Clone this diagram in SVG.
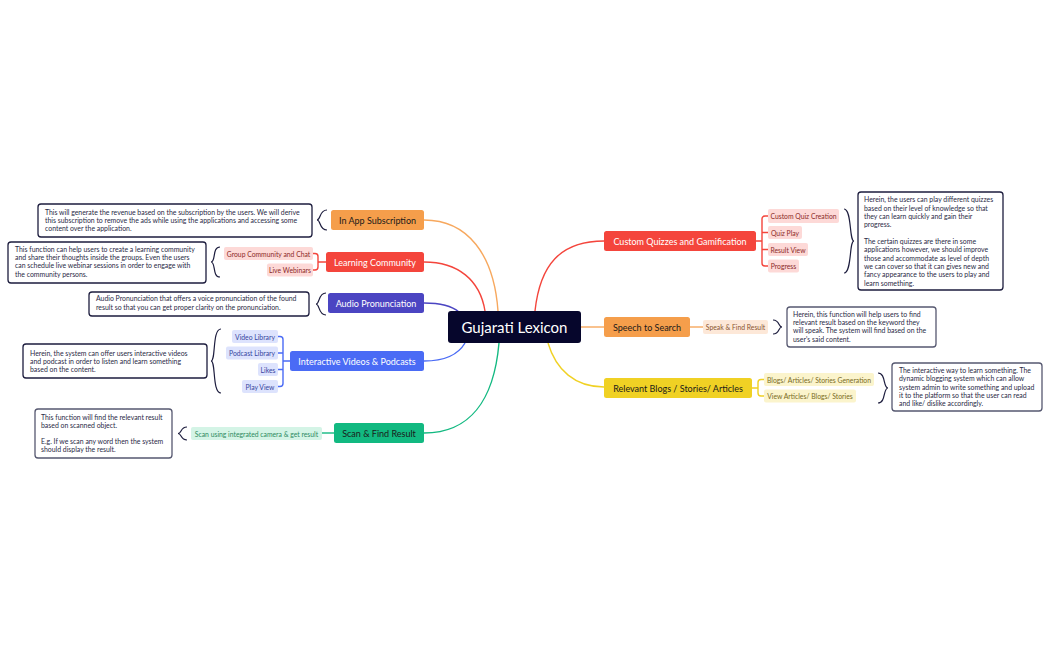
<svg xmlns="http://www.w3.org/2000/svg" width="1051" height="650" viewBox="0 0 1051 650">
<style>
text{font-family:Lato,"Liberation Sans",sans-serif}
.mt{font-size:9px;text-anchor:middle;dominant-baseline:central}
.st{font-size:6.8px;text-anchor:middle;dominant-baseline:central}
.dt{font-size:6.9px;fill:#2a2a46}
.desc{fill:#fff;stroke:#1d1d3e;stroke-width:1.3}
.descg{fill:#fff;stroke:#565870;stroke-width:1.3}
.br{fill:none;stroke:#1d1d3e;stroke-width:1.2}
.c{fill:none;stroke-width:1.4}
</style>
<rect width="1051" height="650" fill="#fff"/>
<g id="connectors">
<path class="c" stroke="#F7A85E" d="M424 220 C468 220 494 255 498 311"/>
<path class="c" stroke="#F4453C" d="M424 262 C458 262 480 280 485 311"/>
<path class="c" stroke="#4B45C2" d="M424 303 C440 303 452 306 459 312"/>
<path class="c" stroke="#4A6BF5" d="M424 361 C445 361 458 355 465 343"/>
<path class="c" stroke="#12B981" d="M424 433 C470 433 494 400 499 343"/>
<path class="c" stroke="#F4453C" d="M604 241 C560 241 540 265 535 311"/>
<path class="c" stroke="#F7A85E" d="M581 327 L604 327"/>
<path class="c" stroke="#F0D124" d="M548 343 C556 370 575 387 604 387"/>
<path class="c" stroke="#F4453C" d="M326 262 H318 M313 253.5 H315 Q318 253.5 318 256.5 V267 Q318 270 315 270 H313"/>
<path class="c" stroke="#4A6BF5" d="M290 361 H283 M278 336.5 H280 Q283 336.5 283 339.5 V383.5 Q283 386.5 280 386.5 H278 M278 353 H283 M278 369.5 H283"/>
<path class="c" stroke="#12B981" d="M334 433 H322"/>
<path class="c" stroke="#F4453C" d="M756 241 H762 M768 216 H765 Q762 216 762 219 V263 Q762 266 765 266 H768 M768 232.5 H762 M768 249.5 H762"/>
<path class="c" stroke="#F7A85E" d="M690 327 H703"/>
<path class="c" stroke="#F0D124" d="M752 388 H758 M764 379.5 H761 Q758 379.5 758 382.5 V393 Q758 396 761 396 H764"/>
<path class="br" d="M327 210 C319 210 321 220 317 220 C321 220 319 230 327 230"/>
<path class="br" d="M220 247 C212 247 216 262 211 262 C216 262 212 277 220 277"/>
<path class="br" d="M326 293 C318 293 320 304 316 304 C320 304 318 315 326 315"/>
<path class="br" d="M221 329 C212 329 216 361 211 361 C216 361 212 393 221 393"/>
<path class="br" d="M187 427 C180 427 182 433.5 178 433.5 C182 433.5 180 440 187 440"/>
<path class="br" d="M844 209 C852 209 849 241 854 241 C849 241 852 273 844 273"/>
<path class="br" d="M773 320 C780 320 778 327 782 327 C778 327 780 334 773 334"/>
<path class="br" d="M878 373 C886 373 883 388 888 388 C883 388 886 403 878 403"/>
</g>
<g id="central">
<rect x="448" y="311" width="133" height="32" rx="3" fill="#06062C"/>
<text x="514.5" y="327" font-size="15" fill="#fff" text-anchor="middle" dominant-baseline="central">Gujarati Lexicon</text>
</g>
<g id="in-app">
<rect x="331" y="210" width="93" height="20" rx="2.5" fill="#F59E4B"/>
<text class="mt" x="377.5" y="220" fill="#1a1a1a">In App Subscription</text>
<rect class="desc" x="38" y="204" width="274" height="33" rx="3"/>
<text class="dt" x="45" y="214.7">This will generate the revenue based on the subscription by the users. We will derive</text>
<text class="dt" x="45" y="222.8">this subscription to remove the ads while using the applications and accessing some</text>
<text class="dt" x="45" y="230.9">content over the application.</text>
</g>
<g id="learning">
<rect x="326" y="252" width="98" height="20" rx="2.5" fill="#F4453C"/>
<text class="mt" x="375" y="262" fill="#fff">Learning Community</text>
<rect x="224" y="247" width="89" height="13" rx="2" fill="#FDD9D7"/>
<text class="st" x="268.5" y="253.5" fill="#8C2A27">Group Community and Chat</text>
<rect x="267" y="263.5" width="46" height="13" rx="2" fill="#FDD9D7"/>
<text class="st" x="290" y="270" fill="#8C2A27">Live Webinars</text>
<rect class="desc" x="8" y="242" width="198" height="41" rx="3"/>
<text class="dt" x="15" y="251.8">This function can help users to create a learning community</text>
<text class="dt" x="15" y="260.1">and share their thoughts inside the groups. Even the users</text>
<text class="dt" x="15" y="268.4">can schedule live webinar sessions in order to engage with</text>
<text class="dt" x="15" y="276.7">the community persons.</text>
</g>
<g id="audio">
<rect x="328" y="293" width="96" height="20" rx="2.5" fill="#4B45C2"/>
<text class="mt" x="376" y="303" fill="#fff">Audio Pronunciation</text>
<rect class="desc" x="89" y="292" width="220" height="24" rx="3"/>
<text class="dt" x="96" y="301.4">Audio Pronunciation that offers a voice pronunciation of the found</text>
<text class="dt" x="96" y="309.7">result so that you can get proper clarity on the pronunciation.</text>
</g>
<g id="interactive">
<rect x="290" y="351" width="134" height="20" rx="2.5" fill="#4A6BF5"/>
<text class="mt" x="357" y="361" fill="#fff">Interactive Videos &amp; Podcasts</text>
<rect x="232" y="330" width="46" height="13" rx="2" fill="#DDE3FD"/>
<text class="st" x="255" y="336.5" fill="#3645A0">Video Library</text>
<rect x="226" y="346.5" width="52" height="13" rx="2" fill="#DDE3FD"/>
<text class="st" x="252" y="353" fill="#3645A0">Podcast Library</text>
<rect x="258" y="363" width="20" height="13" rx="2" fill="#DDE3FD"/>
<text class="st" x="268" y="369.5" fill="#3645A0">Likes</text>
<rect x="242" y="380" width="36" height="13" rx="2" fill="#DDE3FD"/>
<text class="st" x="260" y="386.5" fill="#3645A0">Play View</text>
<rect class="desc" x="23" y="344" width="184" height="34" rx="3"/>
<text class="dt" x="30" y="355.7">Herein, the system can offer users interactive videos</text>
<text class="dt" x="30" y="364.0">and podcast in order to listen and learn something</text>
<text class="dt" x="30" y="372.3">based on the content.</text>
</g>
<g id="scan">
<rect x="334" y="423" width="90" height="20" rx="2.5" fill="#12B981"/>
<text class="mt" x="379" y="433" fill="#1a1a1a">Scan &amp; Find Result</text>
<rect x="191" y="427" width="131" height="13" rx="2" fill="#D4F4E6"/>
<text class="st" x="256.5" y="433.5" fill="#2D8A5F">Scan using integrated camera &amp; get result</text>
<rect class="descg" x="35" y="409" width="137" height="49" rx="3"/>
<text class="dt" x="41" y="419.7">This function will find the relevant result</text>
<text class="dt" x="41" y="428.0">based on scanned object.</text>
<text class="dt" x="41" y="444.1">E.g. If we scan any word then the system</text>
<text class="dt" x="41" y="452.4">should display the result.</text>
</g>
<g id="quizzes">
<rect x="604" y="231" width="152" height="20" rx="2.5" fill="#F4453C"/>
<text class="mt" x="680" y="241" fill="#fff">Custom Quizzes and Gamification</text>
<rect x="768" y="209" width="71" height="14" rx="2" fill="#FDD9D7"/>
<text class="st" x="803.5" y="216" fill="#8C2A27">Custom Quiz Creation</text>
<rect x="768" y="226" width="34" height="13" rx="2" fill="#FDD9D7"/>
<text class="st" x="785" y="232.5" fill="#8C2A27">Quiz Play</text>
<rect x="768" y="243" width="40" height="13" rx="2" fill="#FDD9D7"/>
<text class="st" x="788" y="249.5" fill="#8C2A27">Result View</text>
<rect x="768" y="259.5" width="31" height="13" rx="2" fill="#FDD9D7"/>
<text class="st" x="783.5" y="266" fill="#8C2A27">Progress</text>
<rect class="desc" x="858" y="192" width="145" height="98" rx="3"/>
<text class="dt" x="864" y="202.4">Herein, the users can play different quizzes</text>
<text class="dt" x="864" y="210.7">based on their level of knowledge so that</text>
<text class="dt" x="864" y="219.1">they can learn quickly and gain their</text>
<text class="dt" x="864" y="227.4">progress.</text>
<text class="dt" x="864" y="244.1">The certain quizzes are there in some</text>
<text class="dt" x="864" y="252.4">applications however, we should improve</text>
<text class="dt" x="864" y="260.7">those and accommodate as level of depth</text>
<text class="dt" x="864" y="269.1">we can cover so that it can gives new and</text>
<text class="dt" x="864" y="277.4">fancy appearance to the users to play and</text>
<text class="dt" x="864" y="285.7">learn something.</text>
</g>
<g id="speech">
<rect x="604" y="317" width="86" height="20" rx="2.5" fill="#F59E4B"/>
<text class="mt" x="647" y="327" fill="#1a1a1a">Speech to Search</text>
<rect x="703" y="320" width="65" height="14" rx="2" fill="#FDE8D8"/>
<text class="st" x="735.5" y="327" fill="#8A5530">Speak &amp; Find Result</text>
<rect class="descg" x="787" y="307" width="149" height="40" rx="3"/>
<text class="dt" x="793" y="316.7">Herein, this function will help users to find</text>
<text class="dt" x="793" y="325.0">relevant result based on the keyword they</text>
<text class="dt" x="793" y="333.4">will speak. The system will find based on the</text>
<text class="dt" x="793" y="341.7">user's said content.</text>
</g>
<g id="blogs">
<rect x="604" y="378" width="148" height="20" rx="2.5" fill="#F0D124"/>
<text class="mt" x="678" y="388" fill="#1a1a1a">Relevant Blogs / Stories/ Articles</text>
<rect x="764" y="373" width="110" height="13" rx="2" fill="#FBF4CC"/>
<text class="st" x="819" y="379.5" fill="#7A6B22">Blogs/ Articles/ Stories Generation</text>
<rect x="764" y="389.5" width="92" height="13" rx="2" fill="#FBF4CC"/>
<text class="st" x="810" y="396" fill="#7A6B22">View Articles/ Blogs/ Stories</text>
<rect class="descg" x="892" y="363" width="150" height="48" rx="3"/>
<text class="dt" x="899" y="373.0">The interactive way to learn something. The</text>
<text class="dt" x="899" y="381.3">dynamic blogging system which can allow</text>
<text class="dt" x="899" y="389.6">system admin to write something and upload</text>
<text class="dt" x="899" y="397.9">it to the platform so that the user can read</text>
<text class="dt" x="899" y="406.2">and like/ dislike accordingly.</text>
</g>
</svg>
